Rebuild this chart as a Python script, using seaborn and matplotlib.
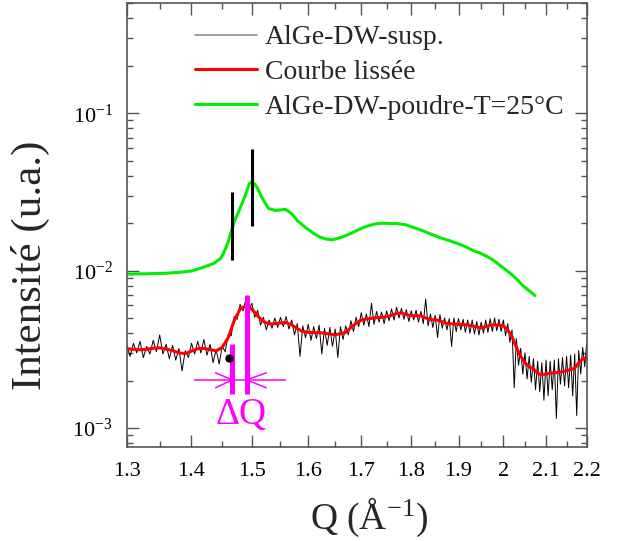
import numpy as np
import matplotlib
matplotlib.use("Agg")
import matplotlib.pyplot as plt
from matplotlib.ticker import FixedLocator, FixedFormatter, NullFormatter, LogLocator
import seaborn as sns

# raw scan of the suspension (intensity in 1e-3 u.a.)
q_raw = [
    1.300, 1.305, 1.310, 1.315, 1.320, 1.325, 1.330, 1.335, 1.340, 1.345,
    1.350, 1.355, 1.360, 1.365, 1.370, 1.375, 1.380, 1.385, 1.390, 1.395,
    1.400, 1.405, 1.410, 1.415, 1.420, 1.425, 1.430, 1.435, 1.440, 1.445,
    1.450, 1.455, 1.460, 1.465, 1.470, 1.475, 1.480, 1.485, 1.490, 1.495,
    1.500, 1.505, 1.510, 1.515, 1.520, 1.525, 1.530, 1.535, 1.540, 1.545,
    1.550, 1.555, 1.560, 1.565, 1.570, 1.575, 1.580, 1.585, 1.590, 1.595,
    1.600, 1.605, 1.610, 1.615, 1.620, 1.625, 1.630, 1.635, 1.640, 1.645,
    1.650, 1.655, 1.660, 1.665, 1.670, 1.675, 1.680, 1.685, 1.690, 1.695,
    1.700, 1.705, 1.710, 1.715, 1.720, 1.725, 1.730, 1.735, 1.740, 1.745,
    1.750, 1.755, 1.760, 1.765, 1.770, 1.775, 1.780, 1.785, 1.790, 1.795,
    1.800, 1.805, 1.810, 1.815, 1.820, 1.825, 1.830, 1.835, 1.840, 1.845,
    1.850, 1.855, 1.860, 1.865, 1.870, 1.875, 1.880, 1.885, 1.890, 1.895,
    1.900, 1.905, 1.910, 1.915, 1.920, 1.925, 1.930, 1.935, 1.940, 1.945,
    1.950, 1.955, 1.960, 1.965, 1.970, 1.975, 1.980, 1.985, 1.990, 1.995,
    2.000, 2.005, 2.010, 2.015, 2.020, 2.025, 2.030, 2.035, 2.040, 2.045,
    2.050, 2.055, 2.060, 2.065, 2.070, 2.075, 2.080, 2.085, 2.090, 2.095,
    2.100, 2.105, 2.110, 2.115, 2.120, 2.125, 2.130, 2.135, 2.140, 2.145,
    2.150, 2.155, 2.160, 2.165, 2.170, 2.175, 2.180, 2.185, 2.190, 2.195,
    2.200, 2.205, 2.210,
]
i_raw = [
    3.40, 2.85, 3.45, 3.00, 3.55, 2.80, 3.30, 2.95, 3.60, 3.05,
    3.90, 2.95, 3.40, 2.75, 3.35, 2.70, 3.20, 2.30, 3.10, 2.80,
    3.45, 2.95, 3.55, 3.00, 3.65, 2.90, 3.40, 2.60, 3.15, 2.55,
    3.30, 3.05, 3.90, 3.85, 5.10, 4.90, 6.10, 5.55, 6.60, 5.60,
    6.20, 5.05, 5.60, 4.50, 5.05, 4.20, 4.85, 4.30, 5.00, 4.35,
    5.05, 4.40, 5.10, 4.25, 4.85, 3.90, 4.60, 2.85, 4.45, 3.75,
    4.55, 3.60, 4.40, 3.70, 4.50, 2.95, 4.30, 3.35, 4.35, 3.30,
    4.25, 2.80, 4.40, 3.65, 4.45, 3.90, 4.80, 4.10, 5.05, 4.40,
    5.40, 4.50, 5.30, 4.40, 6.20, 4.55, 5.50, 4.70, 5.45, 4.60,
    5.55, 4.80, 5.70, 4.85, 5.85, 5.00, 5.75, 4.90, 5.65, 4.75,
    5.55, 4.85, 5.60, 4.70, 5.50, 4.60, 6.60, 4.45, 5.30, 4.35,
    5.20, 3.75, 5.25, 4.30, 5.00, 4.20, 4.95, 3.30, 5.00, 4.10,
    4.95, 4.20, 4.90, 4.05, 4.85, 4.00, 4.85, 3.95, 4.75, 3.90,
    4.70, 4.00, 4.85, 4.05, 4.95, 4.10, 5.00, 4.15, 4.90, 4.10,
    4.85, 3.85, 4.60, 3.50, 4.20, 1.80, 3.70, 2.50, 3.20, 2.20,
    3.00, 2.05, 2.85, 1.95, 2.75, 1.75, 2.65, 1.70, 2.60, 1.50,
    2.70, 1.60, 2.65, 1.75, 2.70, 1.15, 2.75, 1.90, 2.80, 1.85,
    2.85, 1.80, 2.90, 1.60, 2.95, 1.20, 3.10, 2.20, 3.25, 2.45,
    3.45, 2.50, 4.00,
]

# smoothed curve (1e-3 u.a.)
q_smooth = [
    1.30, 1.31, 1.32, 1.33, 1.34, 1.35, 1.36, 1.37, 1.38, 1.39,
    1.40, 1.41, 1.42, 1.43, 1.44, 1.45, 1.46, 1.47, 1.48, 1.49,
    1.50, 1.51, 1.52, 1.53, 1.54, 1.55, 1.56, 1.57, 1.58, 1.59,
    1.60, 1.61, 1.62, 1.63, 1.64, 1.65, 1.66, 1.67, 1.68, 1.69,
    1.70, 1.71, 1.72, 1.73, 1.74, 1.75, 1.76, 1.77, 1.78, 1.79,
    1.80, 1.81, 1.82, 1.83, 1.84, 1.85, 1.86, 1.87, 1.88, 1.89,
    1.90, 1.91, 1.92, 1.93, 1.94, 1.95, 1.96, 1.97, 1.98, 1.99,
    2.00, 2.01, 2.02, 2.03, 2.04, 2.05, 2.06, 2.07, 2.08, 2.09,
    2.10, 2.11, 2.12, 2.13, 2.14, 2.15, 2.16, 2.17, 2.18, 2.19,
    2.20, 2.21,
]
i_smooth = [
    3.19, 3.16, 3.14, 3.16, 3.21, 3.23, 3.17, 3.10, 3.00, 2.97,
    3.08, 3.19, 3.20, 3.15, 3.09, 3.25, 3.75, 4.80, 5.70, 5.98,
    5.70, 5.15, 4.75, 4.58, 4.60, 4.65, 4.67, 4.52, 4.28, 4.10,
    4.05, 4.03, 4.03, 4.00, 3.95, 3.91, 3.97, 4.05, 4.35, 4.62,
    4.85, 4.92, 4.97, 5.02, 5.05, 5.09, 5.20, 5.35, 5.38, 5.25,
    5.17, 5.17, 5.15, 5.00, 4.87, 4.87, 4.80, 4.65, 4.60, 4.58,
    4.55, 4.53, 4.52, 4.45, 4.38, 4.33, 4.40, 4.50, 4.53, 4.50,
    4.45, 4.20, 3.80, 3.25, 2.85, 2.60, 2.45, 2.37, 2.22, 2.18,
    2.20, 2.23, 2.24, 2.26, 2.28, 2.31, 2.35, 2.40, 2.60, 2.75,
    2.79, 2.82,
]

# powder at 25 C (1e-2 u.a.)
q_powder = [1.300, 1.330, 1.360, 1.385, 1.400, 1.413, 1.425, 1.436, 1.447, 1.452,
            1.460, 1.467, 1.472, 1.477, 1.4875, 1.496, 1.500, 1.505, 1.510, 1.518,
            1.529, 1.541, 1.559, 1.570, 1.580, 1.595, 1.610, 1.622, 1.635, 1.645,
            1.654, 1.665, 1.679, 1.690, 1.704, 1.717, 1.731, 1.744, 1.757, 1.770,
            1.787, 1.800, 1.818, 1.840, 1.860, 1.880, 1.897, 1.915, 1.932, 1.948,
            1.963, 1.978, 1.992, 2.008, 2.022, 2.034, 2.045, 2.060, 2.074]
i_powder = [0.950, 0.955, 0.962, 0.978, 0.995, 1.030, 1.07, 1.11, 1.19, 1.28,
            1.52, 1.88, 2.14, 2.34, 2.92, 3.58, 3.66, 3.55, 3.33, 2.88,
            2.48, 2.41, 2.45, 2.30, 2.08, 1.88, 1.72, 1.63, 1.58, 1.57,
            1.60, 1.64, 1.72, 1.79, 1.88, 1.94, 1.99, 2.00, 1.99, 1.99,
            1.96, 1.90, 1.82, 1.71, 1.62, 1.55, 1.49, 1.42, 1.34, 1.29,
            1.23, 1.16, 1.08, 1.00, 0.929, 0.865, 0.802, 0.745, 0.693]

# black peak markers on the powder curve
mark_q = [1.467, 1.500]
mark_lo = [0.0116, 0.0191]
mark_hi = [0.0314, 0.0590]

# delta Q annotation
dq_q = [1.467, 1.491]
dq_lo = [1.65e-3, 1.65e-3]
dq_hi = [3.43e-3, 7.03e-3]
dq_bar_q = [1.4034, 1.560]
dq_bar_i = 2.02e-3
arrow_l_q = [1.439, 1.467, 1.439]
arrow_r_q = [1.525, 1.491, 1.525]
arrow_i = [2.24e-3, 2.02e-3, 1.80e-3]
dot_q, dot_i = 1.462, 2.79e-3

x_ticks = [1.3, 1.4, 1.5, 1.6, 1.7, 1.8, 1.9, 2.0, 2.1, 2.2]
x_ticklabels = ["1.3", "1.4", "1.5", "1.6", "1.7", "1.8", "1.9", "2", "2.1", "2.2"]
x_minor = [1.35, 1.45, 1.55, 1.65, 1.75, 1.85, 1.95, 2.05, 2.15]

sns.set_style("ticks")
plt.rcParams["font.family"] = ["Liberation Serif", "DejaVu Serif"]
plt.rcParams["mathtext.fontset"] = "custom"
plt.rcParams["mathtext.rm"] = "Liberation Serif"
plt.rcParams["mathtext.it"] = "Liberation Serif:italic"
plt.rcParams["mathtext.bf"] = "Liberation Serif:bold"

fig = plt.figure(figsize=(6.28, 5.41), dpi=100)
ax = fig.add_axes([0.20175, 0.17431, 0.73248, 0.82070])

magenta = "#ff00ff"

sns.lineplot(x=q_raw, y=np.array(i_raw) * 1e-3, color="black", lw=0.7,
             estimator=None, sort=False, label="AlGe-DW-susp.", ax=ax)
sns.lineplot(x=q_smooth, y=np.array(i_smooth) * 1e-3, color="#ff0000", lw=2.2,
             estimator=None, sort=False, label="Courbe lissée", ax=ax)
sns.lineplot(x=q_powder, y=np.array(i_powder) * 1e-2, color="#00ee00", lw=2.2,
             estimator=None, sort=False, label="AlGe-DW-poudre-T=25°C", ax=ax)

ax.vlines(mark_q, mark_lo, mark_hi, color="black", lw=2.2)
ax.vlines(dq_q, dq_lo, dq_hi, color=magenta, lw=3.6)
ax.hlines(dq_bar_i, dq_bar_q[0], dq_bar_q[1], color=magenta, lw=1.1)
ax.plot(arrow_l_q, arrow_i, color=magenta, lw=1.1)
ax.plot(arrow_r_q, arrow_i, color=magenta, lw=1.1)
ax.plot(dot_q, dot_i, "o", color="black", ms=5)
ax.text(1.481, 1.22e-3, "ΔQ", color=magenta, fontsize=27, ha="center", va="center")

ax.set_xscale("log")
ax.set_yscale("log")
ax.set_xlim(1.3, 2.2)
ax.set_ylim(7.6e-4, 0.504)

ax.xaxis.set_major_locator(FixedLocator(x_ticks))
ax.xaxis.set_major_formatter(FixedFormatter(x_ticklabels))
ax.xaxis.set_minor_locator(FixedLocator(x_minor))
ax.xaxis.set_minor_formatter(NullFormatter())
ax.yaxis.set_major_locator(LogLocator(base=10))
ax.yaxis.set_minor_locator(LogLocator(base=10, subs=np.arange(2, 10)))
ax.yaxis.set_minor_formatter(NullFormatter())

ax.tick_params(which="both", direction="in", top=True, right=True,
               color="#555555", labelcolor="black", labelsize=16, width=1)
ax.tick_params(which="major", length=8.5)
ax.tick_params(which="minor", length=4)
ax.tick_params(axis="x", pad=11)
ax.tick_params(axis="y", pad=10)
for s in ax.spines.values():
    s.set_color("#555555")
    s.set_linewidth(1.2)

ax.set_xlabel("Q (Å$^{\\mathregular{-1}}$)", fontsize=27)
ax.xaxis.set_label_coords(0.527, -0.11)
ax.set_ylabel("Intensité (u.a.)", fontsize=31)
ax.yaxis.set_label_coords(-0.167, 0.409)

leg = ax.legend(loc="upper left", bbox_to_anchor=(195 / 628, 1 - 25 / 541),
                bbox_transform=fig.transFigure, frameon=False, fontsize=20,
                handlelength=2.23, handletextpad=0.29, labelspacing=0.33,
                borderpad=0, borderaxespad=0)
leg.get_lines()[0].set_color("0.55")
leg.get_lines()[0].set_linewidth(1.2)

fig.savefig("out.png", dpi=100)
